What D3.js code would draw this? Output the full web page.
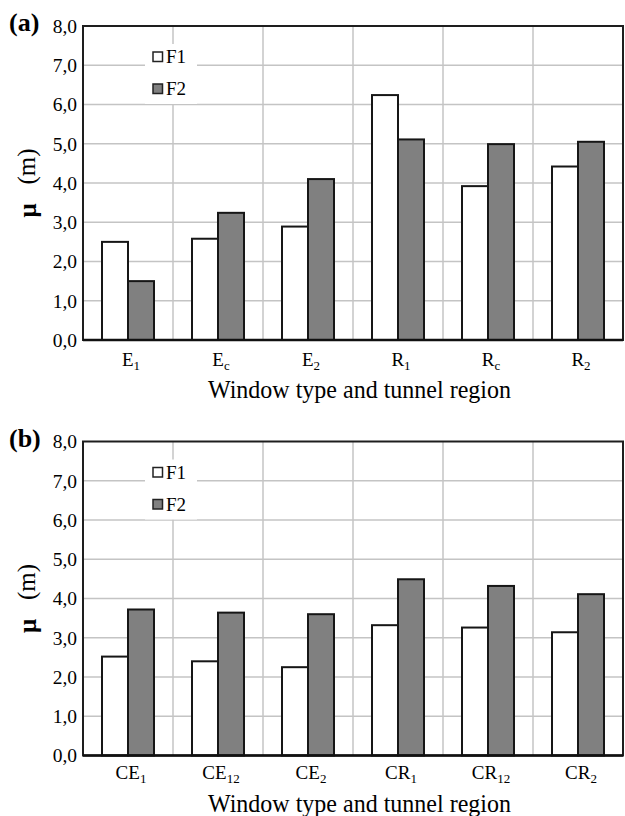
<!DOCTYPE html>
<html>
<head>
<meta charset="utf-8">
<script src="https://cdn.jsdelivr.net/npm/d3@7"></script>
<style>
  html, body { margin: 0; padding: 0; background: #fff; }
  svg { display: block; }
</style>
</head>
<body>
<svg id="chart" width="625" height="816"></svg>
<script>
// Mean distance μ (m) per window type and tunnel region, for F1 and F2
const series = ["F1", "F2"];

const categoriesA = ["E1", "Ec", "E2", "R1", "Rc", "R2"];
const f1A = [2.50, 2.58, 2.89, 6.24, 3.92, 4.42];
const f2A = [1.50, 3.24, 4.10, 5.11, 4.99, 5.05];

const categoriesB = ["CE1", "CE12", "CE2", "CR1", "CR12", "CR2"];
const f1B = [2.52, 2.40, 2.25, 3.32, 3.26, 3.14];
const f2B = [3.72, 3.64, 3.60, 4.49, 4.32, 4.11];

const yTicks = [0, 1, 2, 3, 4, 5, 6, 7, 8];
const panelTags = ["(a)", "(b)"];
const xTitle = "Window type and tunnel region";
const yTitleSymbol = "μ";
const yTitleUnit = "(m)";

const FONT = "Liberation Serif";
const commaFmt = d3.formatLocale({ decimal: ",", thousands: ".", grouping: [3], currency: ["", ""] }).format(".1f");
const fills = { F1: "#ffffff", F2: "#808080" };

const svg = d3.select("#chart");

function txt(sel) {
  return sel.style("font-family", FONT).style("fill", "#000");
}

function drawPanel(opts) {
  const { top, bottom, tag, categories, f1, f2, tickOffset, titleOffset } = opts;
  const left = 83, right = 623;
  const g = svg.append("g");

  const x = d3.scaleBand().domain(categories).range([left, right]).padding(0);
  const xs = d3.scaleBand().domain(series).range([0, x.bandwidth()]).paddingInner(0).paddingOuter(0.7308);
  const y = d3.scaleLinear().domain([0, 8]).range([bottom, top]);

  // grid
  g.append("g").selectAll("line").data(yTicks.filter(t => t > 0 && t < 8)).join("line")
    .attr("x1", left).attr("x2", right)
    .attr("y1", d => y(d)).attr("y2", d => y(d))
    .attr("stroke", "#c4c4c4").attr("stroke-width", 1.5);
  g.append("g").selectAll("line").data(categories.slice(1)).join("line")
    .attr("x1", d => x(d)).attr("x2", d => x(d))
    .attr("y1", top).attr("y2", bottom)
    .attr("stroke", "#c4c4c4").attr("stroke-width", 1.5);

  // legend
  const lg = g.append("g");
  lg.append("rect").attr("x", 145).attr("y", top + 18).attr("width", 52).attr("height", 60).attr("fill", "#fff");
  series.forEach((s, i) => {
    const cy = top + 30.5 + i * 32;
    lg.append("rect").attr("x", 153).attr("y", cy - 4.5).attr("width", 9.5).attr("height", 9.5)
      .attr("fill", fills[s]).attr("stroke", "#222").attr("stroke-width", 1.5);
    txt(lg.append("text")).attr("x", 166).attr("y", cy + 6.5).style("font-size", "19px").text(s);
  });

  // bars
  const rows = categories.map((c, i) => ({ c, F1: f1[i], F2: f2[i] }));
  g.append("g").selectAll("g").data(rows).join("g")
    .attr("transform", d => `translate(${x(d.c)},0)`)
    .selectAll("rect").data(d => series.map(s => ({ s, v: d[s] }))).join("rect")
    .attr("x", d => xs(d.s)).attr("width", xs.bandwidth())
    .attr("y", d => y(d.v)).attr("height", d => y(0) - y(d.v))
    .attr("fill", d => fills[d.s]).attr("stroke", "#161616").attr("stroke-width", 2);

  // frame
  g.append("rect").attr("x", left).attr("y", top).attr("width", right - left).attr("height", bottom - top)
    .attr("fill", "none").attr("stroke", "#1e1e1e").attr("stroke-width", 2);
  g.append("line").attr("x1", left).attr("x2", right).attr("y1", bottom).attr("y2", bottom)
    .attr("stroke", "#111").attr("stroke-width", 2.5);

  // y axis
  const ya = g.append("g").attr("transform", `translate(${left},0)`)
    .call(d3.axisLeft(y).tickValues(yTicks).tickSize(0).tickPadding(6).tickFormat(commaFmt));
  ya.select(".domain").remove();
  txt(ya.selectAll("text")).style("font-size", "19.5px");

  // x tick labels with subscripts
  const xl = txt(g.append("g").selectAll("text").data(categories).join("text"))
    .attr("x", d => x(d) + x.bandwidth() / 2 + 3)
    .attr("y", bottom + tickOffset)
    .attr("text-anchor", "middle")
    .style("font-size", "19px");
  xl.each(function (d) {
    const m = d.match(/^([A-Z]+)(.*)$/);
    const t = d3.select(this);
    t.append("tspan").text(m[1]);
    t.append("tspan").style("font-size", "13px").attr("dy", 4).text(m[2]);
  });

  // x title
  txt(g.append("text")).attr("x", 208).attr("y", bottom + titleOffset)
    .attr("textLength", 303).attr("lengthAdjust", "spacingAndGlyphs")
    .style("font-size", "25px").text(xTitle);

  // y title
  const mid = (top + bottom) / 2;
  txt(g.append("text")).attr("transform", `translate(36,${mid + 27.5}) rotate(-90)`)
    .attr("text-anchor", "middle").style("font-size", "25px").style("font-weight", "bold").text(yTitleSymbol);
  txt(g.append("text")).attr("transform", `translate(35,${mid - 16.5}) rotate(-90)`)
    .attr("text-anchor", "middle").style("font-size", "25px").text(yTitleUnit);

  // panel tag
  txt(g.append("text")).attr("x", 9).attr("y", top + 5).style("font-size", "26px").style("font-weight", "bold").text(tag);
}

drawPanel({ top: 26, bottom: 340, tag: panelTags[0], categories: categoriesA, f1: f1A, f2: f2A, tickOffset: 25.5, titleOffset: 58 });
drawPanel({ top: 441.5, bottom: 755.5, tag: panelTags[1], categories: categoriesB, f1: f1B, f2: f2B, tickOffset: 23, titleOffset: 56 });
</script>
</body>
</html>
